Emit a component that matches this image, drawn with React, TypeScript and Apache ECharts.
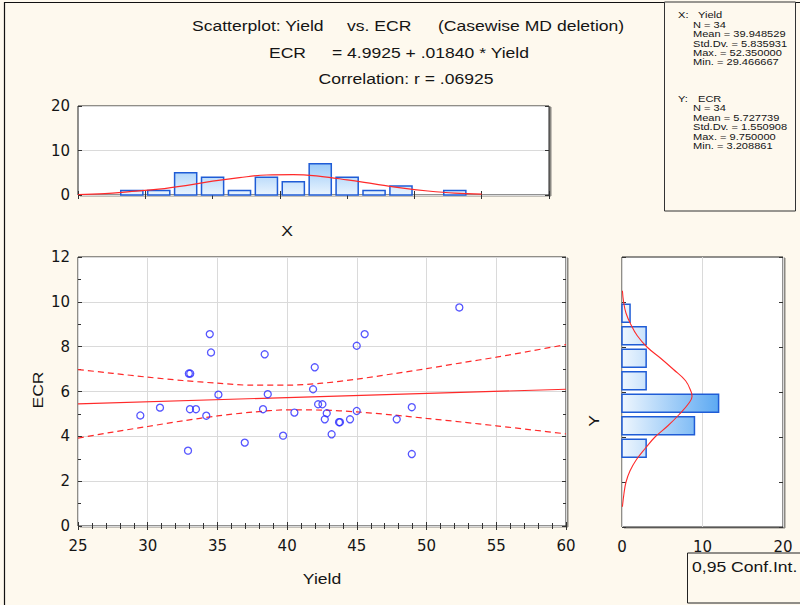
import React, { useEffect, useRef } from "react";
import * as echarts from "echarts";

// ---- data ----
const yieldValues = [29.47, 30.88, 32.89, 32.95, 33.05, 33.03, 33.46, 34.2, 34.45, 34.54, 35.07, 36.96, 38.39, 38.27, 38.61, 39.71, 40.52, 41.98, 41.86, 42.22, 42.53, 42.84, 42.7, 43.19, 43.72, 43.79, 44.51, 44.99, 45.56, 44.99, 47.86, 48.94, 48.94, 52.35];
const ecrValues = [4.93, 5.28, 3.36, 6.8, 6.8, 5.21, 5.21, 4.92, 8.56, 7.74, 5.86, 3.72, 7.66, 5.21, 5.88, 4.03, 5.06, 7.08, 6.1, 5.43, 5.43, 5.03, 4.76, 4.09, 4.63, 4.63, 4.76, 8.04, 8.56, 5.13, 4.76, 5.3, 3.21, 9.75];

const fitX = [25, 60];
const fitY = [5.45, 6.1];
const bandX = [25, 27.5, 30, 32.5, 35, 37.5, 40, 42.5, 45, 47.5, 50, 52.5, 55, 57.5, 60];
const bandUpper = [6.98, 6.81, 6.64, 6.49, 6.37, 6.28, 6.28, 6.37, 6.55, 6.78, 7.02, 7.28, 7.53, 7.81, 8.09];
const bandLower = [3.92, 4.19, 4.44, 4.69, 4.91, 5.08, 5.18, 5.17, 5.09, 4.96, 4.8, 4.64, 4.47, 4.29, 4.11];

const xHistBinStarts = [28, 30, 32, 34, 36, 38, 40, 42, 44, 46, 48, 50, 52];
const xHistCounts = [1, 1, 5, 4, 1, 4, 3, 7, 4, 1, 2, 0, 1];
const xHistBinWidth = 2;
const xCurveX = [25, 27, 29, 31, 33, 35, 37, 39, 41, 43, 45, 47, 49, 51, 53, 55];
const xCurveY = [0.1, 0.3, 0.8, 1.3, 2.1, 3.1, 3.9, 4.5, 4.6, 4.2, 3.4, 2.5, 1.6, 0.9, 0.4, 0.2];

const yHistBinStarts = [3, 4, 5, 6, 7, 8, 9];
const yHistCounts = [3, 9, 12, 3, 3, 3, 1];
const yHistBinWidth = 1;
const yCurveY = [0.9, 1.5, 2.0, 2.5, 3.0, 3.5, 4.0, 4.5, 5.0, 5.5, 5.8, 6.0, 6.5, 7.0, 7.5, 8.0, 8.5, 9.0, 9.5, 10.0, 10.5];
const yCurveCount = [0.05, 0.25, 0.5, 1.0, 1.8, 2.9, 4.1, 5.7, 7.1, 8.3, 8.7, 8.6, 7.9, 6.4, 4.8, 3.1, 1.9, 1.1, 0.5, 0.2, 0.05];

const xStatsLines = ["N = 34", "Mean = 39.948529", "Std.Dv. = 5.835931", "Max. = 52.350000", "Min. = 29.466667"];
const yStatsLines = ["N = 34", "Mean = 5.727739", "Std.Dv. = 1.550908", "Max. = 9.750000", "Min. = 3.208861"];

const ff = "'Liberation Sans', Arial, sans-serif";
const ffTick = "'DejaVu Sans', sans-serif";
const BG = "#fef9ee";
const TXT = "#151515";
const WIDEN = 1.17;

export default function App() {
  const ref = useRef<HTMLDivElement>(null);
  useEffect(() => {
    if (!ref.current) return;
    const chart = echarts.init(ref.current, undefined, { renderer: "svg" });

    const tick = { show: true, inside: true, length: 4, lineStyle: { color: "#333" } };
    const minor = (n: number) => ({ show: true, splitNumber: n, length: 3, lineStyle: { color: "#333" } });
    const lbl = { color: TXT, fontSize: 15, fontFamily: ffTick };
    const grayGrid = { show: true, lineStyle: { color: "#dadada", width: 1 } };
    const gridBase = {
      show: true,
      backgroundColor: "#fff",
      borderColor: "#222",
      borderWidth: 1,
      shadowColor: "rgba(0,0,0,0.45)",
      shadowOffsetX: 2,
      shadowOffsetY: 1,
      shadowBlur: 0,
    };

    const topFill = new echarts.graphic.LinearGradient(0, 195, 0, 160, [
      { offset: 0, color: "#eaf4fe" },
      { offset: 1, color: "#92c6f8" },
    ], true);
    const rightFill = new echarts.graphic.LinearGradient(622, 0, 720, 0, [
      { offset: 0, color: "#eef6fe" },
      { offset: 1, color: "#5aa8f2" },
    ], true);

    const xHistData = xHistBinStarts.map((s, i) => [s, s + xHistBinWidth, xHistCounts[i]]);
    const yHistData = yHistBinStarts.map((s, i) => [s, s + yHistBinWidth, yHistCounts[i]]);

    const graphicText = (text: string, x: number, y: number, size: number, align = "left", extra: any = {}, sx = WIDEN) => ({
      type: "text",
      x,
      y,
      z: 100,
      scaleX: sx,
      ...extra,
      style: { text, fontSize: size, fontFamily: ff, fill: TXT, align, verticalAlign: "middle" },
    });

    const statsTexts: any[] = [];
    const sFont = 9;
    const sScale = 1.23;
    statsTexts.push(graphicText("X:", 678, 15, sFont, "left", { scaleY: 1.05 }, sScale));
    statsTexts.push(graphicText("Yield", 698, 15, sFont, "left", { scaleY: 1.05 }, sScale));
    xStatsLines.forEach((t, i) => statsTexts.push(graphicText(t, 693, 24.4 + i * 9.45, sFont, "left", { scaleY: 1.05 }, sScale)));
    statsTexts.push(graphicText("Y:", 678, 99, sFont, "left", { scaleY: 1.05 }, sScale));
    statsTexts.push(graphicText("ECR", 698, 99, sFont, "left", { scaleY: 1.05 }, sScale));
    yStatsLines.forEach((t, i) => statsTexts.push(graphicText(t, 693, 108 + i * 9.45, sFont, "left", { scaleY: 1.05 }, sScale)));

    const option: any = {
      animation: false,
      backgroundColor: BG,
      textStyle: { fontFamily: ff },
      grid: [
        { ...gridBase, left: 78, top: 257, width: 488, height: 269 },
        { ...gridBase, left: 78, top: 106, width: 471, height: 89 },
        { ...gridBase, left: 622, top: 257, width: 161, height: 270 },
      ],
      xAxis: [
        {
          gridIndex: 0, type: "value", min: 25, max: 60, interval: 5,
          axisLine: { show: false }, axisTick: tick, minorTick: minor(5),
          axisLabel: { ...lbl, margin: 12 }, splitLine: grayGrid,
        },
        {
          gridIndex: 0, type: "value", position: "top", min: 25, max: 60, interval: 5,
          axisLine: { show: false }, axisTick: tick, minorTick: minor(5),
          axisLabel: { show: false }, splitLine: { show: false },
        },
        {
          gridIndex: 1, type: "value", min: 25, max: 60, interval: 5,
          axisLine: { show: false }, axisTick: tick,
          axisLabel: { show: false }, splitLine: { show: false },
        },
        {
          gridIndex: 1, type: "value", position: "top", min: 25, max: 60, interval: 5,
          axisLine: { show: false }, axisTick: tick,
          axisLabel: { show: false }, splitLine: { show: false },
        },
        {
          gridIndex: 2, type: "value", min: 0, max: 20, interval: 10,
          axisLine: { show: false }, axisTick: { show: false },
          axisLabel: { ...lbl, margin: 12 }, splitLine: grayGrid,
        },
      ],
      yAxis: [
        {
          gridIndex: 0, type: "value", min: 0, max: 12, interval: 2,
          axisLine: { show: false }, axisTick: tick, minorTick: minor(2),
          axisLabel: { ...lbl, margin: 8 }, splitLine: grayGrid,
        },
        {
          gridIndex: 0, type: "value", position: "right", min: 0, max: 12, interval: 2,
          axisLine: { show: false }, axisTick: tick, minorTick: minor(2),
          axisLabel: { show: false }, splitLine: { show: false },
        },
        {
          gridIndex: 1, type: "value", min: 0, max: 20, interval: 10,
          axisLine: { show: false }, axisTick: tick,
          axisLabel: { ...lbl, margin: 8 }, splitLine: grayGrid,
        },
        {
          gridIndex: 1, type: "value", position: "right", min: 0, max: 20, interval: 10,
          axisLine: { show: false }, axisTick: tick,
          axisLabel: { show: false }, splitLine: { show: false },
        },
        {
          gridIndex: 2, type: "value", min: 0, max: 12, interval: 2,
          axisLine: { show: false }, axisTick: tick,
          axisLabel: { show: false }, splitLine: { show: false },
        },
        {
          gridIndex: 2, type: "value", position: "right", min: 0, max: 12, interval: 2,
          axisLine: { show: false }, axisTick: tick,
          axisLabel: { show: false }, splitLine: { show: false },
        },
      ],
      series: [
        {
          type: "line", xAxisIndex: 0, yAxisIndex: 0, symbol: "none", z: 3,
          data: fitX.map((x, i) => [x, fitY[i]]),
          lineStyle: { color: "#ff2a2a", width: 1.2 },
        },
        {
          type: "line", xAxisIndex: 0, yAxisIndex: 0, symbol: "none", smooth: 0.3, z: 3,
          data: bandX.map((x, i) => [x, bandUpper[i]]),
          lineStyle: { color: "#ff2a2a", width: 1.2, type: [6, 4] },
        },
        {
          type: "line", xAxisIndex: 0, yAxisIndex: 0, symbol: "none", smooth: 0.3, z: 3,
          data: bandX.map((x, i) => [x, bandLower[i]]),
          lineStyle: { color: "#ff2a2a", width: 1.2, type: [6, 4] },
        },
        {
          type: "scatter", xAxisIndex: 0, yAxisIndex: 0, z: 5,
          symbol: "circle", symbolSize: 7,
          data: yieldValues.map((x, i) => [x, ecrValues[i]]),
          itemStyle: { color: "rgba(0,0,0,0)", borderColor: "#2b2bff", borderWidth: 1.3 },
        },
        {
          type: "custom", xAxisIndex: 2, yAxisIndex: 2, z: 2,
          data: xHistData,
          encode: { x: [0, 1], y: 2 },
          renderItem: (params: any, api: any) => {
            const s = api.value(0), e = api.value(1), c = api.value(2);
            if (!c) return { type: "group", children: [] };
            const p0 = api.coord([s, c]);
            const p1 = api.coord([e, 0]);
            const inset = 2.4;
            return {
              type: "rect",
              shape: { x: p0[0] + inset, y: p0[1], width: p1[0] - p0[0] - 2 * inset, height: p1[1] - p0[1] },
              style: { fill: topFill, stroke: "#1f5cd6", lineWidth: 1.5 },
            };
          },
        },
        {
          type: "line", xAxisIndex: 2, yAxisIndex: 2, symbol: "none", smooth: 0.4, z: 4,
          data: xCurveX.map((x, i) => [x, xCurveY[i]]),
          lineStyle: { color: "#ff2a2a", width: 1.2 },
        },
        {
          type: "custom", xAxisIndex: 4, yAxisIndex: 4, z: 2,
          data: yHistData,
          encode: { x: 2, y: [0, 1] },
          renderItem: (params: any, api: any) => {
            const s = api.value(0), e = api.value(1), c = api.value(2);
            if (!c) return { type: "group", children: [] };
            const p0 = api.coord([0, e]);
            const p1 = api.coord([c, s]);
            const inset = 2.2;
            return {
              type: "rect",
              shape: { x: p0[0], y: p0[1] + inset, width: p1[0] - p0[0], height: p1[1] - p0[1] - 2 * inset },
              style: { fill: rightFill, stroke: "#1f5cd6", lineWidth: 1.5 },
            };
          },
        },
        {
          type: "line", xAxisIndex: 4, yAxisIndex: 4, symbol: "none", smooth: 0.4, z: 4,
          data: yCurveY.map((y, i) => [yCurveCount[i], y]),
          lineStyle: { color: "#ff2a2a", width: 1.1 },
        },
      ],
      graphic: [
        { type: "rect", z: 90, shape: { x: 4.5, y: 2.5, width: 810, height: 620 }, style: { fill: "none", stroke: "#111", lineWidth: 1.2 } },
        { type: "rect", z: 95, shape: { x: 664.5, y: 2, width: 131, height: 209 }, style: { fill: BG, stroke: "#333", lineWidth: 1 } },
        ...statsTexts,
        { type: "rect", z: 95, shape: { x: 687.5, y: 553, width: 130, height: 50 }, style: { fill: BG, stroke: "#222", lineWidth: 1 } },
        graphicText("0,95 Conf.Int.", 692, 566, 15),
        graphicText("Scatterplot: Yield", 192, 25, 15),
        graphicText("vs. ECR", 347, 25, 15),
        graphicText("(Casewise MD deletion)", 438, 25, 15),
        graphicText("ECR", 269, 52, 15),
        graphicText("= 4.9925 + .01840 * Yield", 332, 52, 15),
        graphicText("Correlation: r = .06925", 406, 78, 15, "center"),
        graphicText("X", 287, 230, 15, "center"),
        graphicText("Yield", 322, 578, 15, "center"),
        graphicText("ECR", 37, 390, 15, "center", { rotation: Math.PI / 2 }),
        graphicText("Y", 593, 421, 15, "center", { rotation: Math.PI / 2 }),
      ],
    };

    chart.setOption(option);
    return () => chart.dispose();
  }, []);

  return (
    <div
      ref={ref}
      style={{ position: "fixed", left: 0, top: 0, width: 800, height: 605 }}
    />
  );
}
